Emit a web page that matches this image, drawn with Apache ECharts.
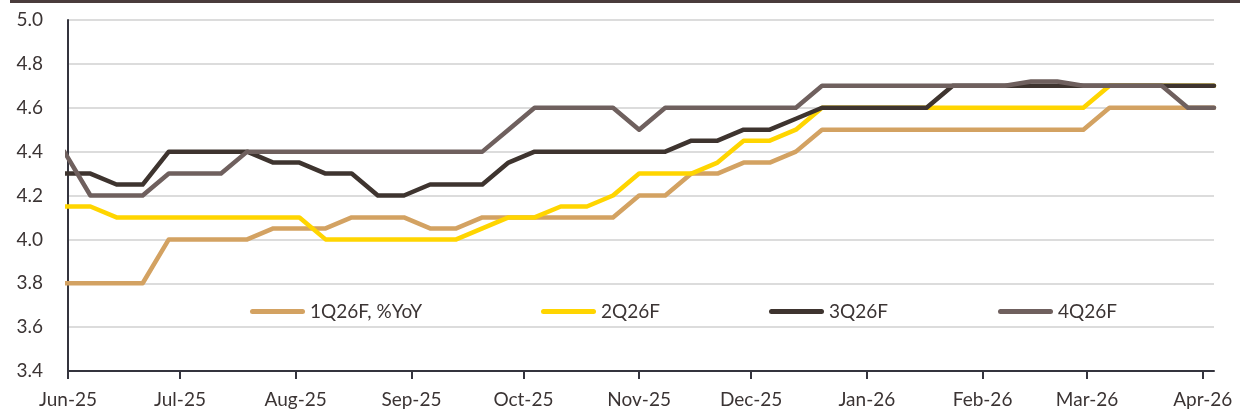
<!DOCTYPE html>
<html>
<head>
<meta charset="utf-8">
<script src="https://cdn.jsdelivr.net/npm/echarts@6/dist/echarts.min.js"></script>
<style>
html,body{margin:0;padding:0;background:#fff;}
#chart{width:1240px;height:417px;}
</style>
</head>
<body>
<div id="chart"></div>
<script>
// Weekly observation dates
var dates = ['2025-05-31','2025-06-07','2025-06-14','2025-06-21','2025-06-28',
  '2025-07-05','2025-07-12','2025-07-19','2025-07-26','2025-08-02','2025-08-09',
  '2025-08-16','2025-08-23','2025-08-30','2025-09-06','2025-09-13','2025-09-20',
  '2025-09-27','2025-10-04','2025-10-11','2025-10-18','2025-10-25','2025-11-01',
  '2025-11-08','2025-11-15','2025-11-22','2025-11-29','2025-12-06','2025-12-13',
  '2025-12-20','2025-12-27','2026-01-03','2026-01-10','2026-01-17','2026-01-24',
  '2026-01-31','2026-02-07','2026-02-14','2026-02-21','2026-02-28','2026-03-07',
  '2026-03-14','2026-03-21','2026-03-28','2026-04-04'];

var seriesNames = ['1Q26F, %YoY','2Q26F','3Q26F','4Q26F'];

var q1 = [3.8,3.8,3.8,3.8,4.0,4.0,4.0,4.0,4.05,4.05,4.05,4.1,4.1,4.1,4.05,4.05,
  4.1,4.1,4.1,4.1,4.1,4.1,4.2,4.2,4.3,4.3,4.35,4.35,4.4,4.5,4.5,4.5,4.5,4.5,4.5,
  4.5,4.5,4.5,4.5,4.5,4.6,4.6,4.6,4.6,4.6];
var q2 = [4.15,4.15,4.1,4.1,4.1,4.1,4.1,4.1,4.1,4.1,4.0,4.0,4.0,4.0,4.0,4.0,
  4.05,4.1,4.1,4.15,4.15,4.2,4.3,4.3,4.3,4.35,4.45,4.45,4.5,4.6,4.6,4.6,4.6,4.6,
  4.6,4.6,4.6,4.6,4.6,4.6,4.7,4.7,4.7,4.7,4.7];
var q3 = [4.3,4.3,4.25,4.25,4.4,4.4,4.4,4.4,4.35,4.35,4.3,4.3,4.2,4.2,4.25,4.25,
  4.25,4.35,4.4,4.4,4.4,4.4,4.4,4.4,4.45,4.45,4.5,4.5,4.55,4.6,4.6,4.6,4.6,4.6,
  4.7,4.7,4.7,4.7,4.7,4.7,4.7,4.7,4.7,4.7,4.7];
var q4 = [4.4,4.2,4.2,4.2,4.3,4.3,4.3,4.4,4.4,4.4,4.4,4.4,4.4,4.4,4.4,4.4,
  4.4,4.5,4.6,4.6,4.6,4.6,4.5,4.6,4.6,4.6,4.6,4.6,4.6,4.7,4.7,4.7,4.7,4.7,
  4.7,4.7,4.7,4.72,4.72,4.7,4.7,4.7,4.7,4.6,4.6];

var yTicks = [3.4,3.6,3.8,4.0,4.2,4.4,4.6,4.8,5.0];
var monthNames = ['Jan','Feb','Mar','Apr','May','Jun','Jul','Aug','Sep','Oct','Nov','Dec'];

var colors = ['#D3A262','#FFD500','#3E342F','#6F605E'];
var FONT = 'Lato';
var TXT = '#3b3434';

function pairs(vals){
  return dates.map(function(d,i){ return [d, vals[i]]; });
}
var allVals = [q1,q2,q3,q4];

var chart = echarts.init(document.getElementById('chart'), null, {renderer:'canvas'});
var pill = 'path://M2.5,0 L52.5,0 A2.5,2.5 0 0 1 52.5,5 L2.5,5 A2.5,2.5 0 0 1 2.5,0 Z';
var legendLefts = [250, 541, 769, 998];

var option = {
  backgroundColor:'#ffffff',
  animation:false,
  color: colors,
  textStyle:{fontFamily:FONT},
  grid:{left:68, right:26, top:20, bottom:46, containLabel:false},
  graphic:[{type:'rect', left:10, top:0, shape:{width:1230, height:3}, style:{fill:'#4a3c3c'}}],
  legend: seriesNames.map(function(n,i){
    return {
      data:[n], left:legendLefts[i], top:302, padding:0, icon:pill,
      itemWidth:55, itemHeight:5,
      textStyle:{fontSize:19, color:TXT, fontFamily:FONT}
    };
  }),
  xAxis:{
    type:'time',
    min:'2025-06-01', max:'2026-04-04',
    minInterval: 28*86400000,
    maxInterval: 31*86400000,
    axisLine:{show:true, lineStyle:{color:'#34343e', width:2}},
    axisTick:{show:true, length:8, lineStyle:{color:'#34343e', width:2}},
    splitLine:{show:false},
    axisLabel:{
      fontSize:19, color:TXT, fontFamily:FONT, margin:19,
      showMaxLabel:false,
      formatter:function(v){
        var d = new Date(v);
        return monthNames[d.getMonth()] + '-' + String(d.getFullYear()).slice(2);
      }
    }
  },
  yAxis:{
    type:'value', min:yTicks[0], max:yTicks[yTicks.length-1], interval:0.2,
    axisLine:{show:true, lineStyle:{color:'#34343e', width:2}},
    axisTick:{show:false},
    splitLine:{show:true, lineStyle:{color:'#dcdcdc', width:2}},
    axisLabel:{
      fontSize:19, color:TXT, fontFamily:FONT, margin:25,
      padding:[0,0,8,0],
      formatter:function(v){ return v.toFixed(1); }
    }
  },
  series: seriesNames.map(function(n,i){
    return {
      name:n, type:'line', data:pairs(allVals[i]),
      symbol:'none', clip:true,
      lineStyle:{width:4.5, color:colors[i], cap:'round', join:'round'},
      itemStyle:{color:colors[i]}
    };
  })
};
chart.setOption(option);
</script>
</body>
</html>
